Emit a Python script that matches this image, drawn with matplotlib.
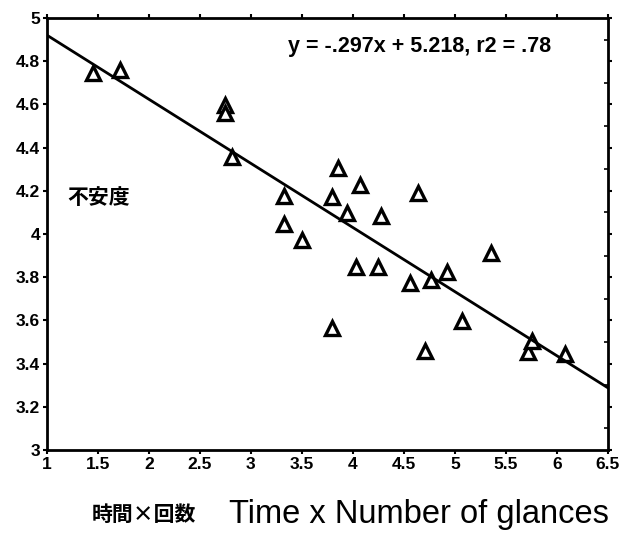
import numpy as np
import matplotlib.pyplot as plt
import matplotlib.ticker as ticker

# glance data: time x number of glances vs anxiety rating
x_vals = [1.45, 1.72, 2.75, 2.75, 2.81, 3.32, 3.32, 3.50, 3.85, 4.07,
          3.80, 3.94, 4.28, 4.64, 4.03, 4.25, 4.56, 4.77, 4.92, 5.35,
          3.80, 5.07, 4.71, 5.72, 5.76, 6.08]
y_vals = [4.745, 4.76, 4.597, 4.56, 4.357, 4.176, 4.046, 3.97, 4.306, 4.227,
          4.17, 4.097, 4.083, 4.19, 3.847, 3.847, 3.773, 3.787, 3.824, 3.912,
          3.565, 3.597, 3.458, 3.454, 3.505, 3.444]

slope = -0.297
intercept = 5.218
fit_label = 'y = -.297x + 5.218, r2 = .78'

x_ticks = [1, 1.5, 2, 2.5, 3, 3.5, 4, 4.5, 5, 5.5, 6, 6.5]
x_ticklabels = ['1', '1.5', '2', '2.5', '3', '3.5', '4', '4.5', '5', '5.5', '6', '6.5']
y_ticks = [3, 3.2, 3.4, 3.6, 3.8, 4, 4.2, 4.4, 4.6, 4.8, 5]
y_ticklabels = ['3', '3.2', '3.4', '3.6', '3.8', '4', '4.2', '4.4', '4.6', '4.8', '5']

plt.rcParams['font.family'] = ['Liberation Sans', 'Noto Sans CJK JP', 'DejaVu Sans']
cjk = ['Noto Sans CJK JP', 'DejaVu Sans']

fig = plt.figure(figsize=(6.26, 5.33), dpi=100)
ax = fig.add_axes([0.075, 0.156, 0.896, 0.81])

ax.plot(x_vals, y_vals, linestyle='none', marker='^', markersize=10,
        markerfacecolor='white', markeredgecolor='black', markeredgewidth=2.4)

xl = np.array([1, 6.5])
ax.plot(xl, slope * xl + intercept, color='black', lw=2)

ax.set_xlim(1, 6.5)
ax.set_ylim(3, 5)
ax.set_xticks(x_ticks)
ax.set_xticklabels(x_ticklabels, fontweight='bold', fontsize=12.5)
ax.set_yticks(y_ticks)
ax.set_yticklabels(y_ticklabels, fontweight='bold', fontsize=12.5)
ax.yaxis.set_minor_locator(ticker.MultipleLocator(0.1))

for s in ax.spines.values():
    s.set_linewidth(2)

ax.tick_params(which='major', direction='out', length=3, width=1.5, pad=2,
               top=True, right=True)
ax.tick_params(which='minor', direction='in', length=3, width=1.2,
               left=False, right=True)

ax.text(0.43, 0.935, fit_label, transform=ax.transAxes, fontsize=15.5,
        fontweight='bold', ha='left', va='center')
ax.text(0.036, 0.585, '不安度', transform=ax.transAxes, fontsize=15,
        fontweight='bold', family=cjk, ha='left', va='center')

fig.text(0.147, 0.034, '時間×回数', fontsize=15, fontweight='bold',
         family=cjk, ha='left', va='center')
fig.text(0.669, 0.034, 'Time x Number of glances', fontsize=23.5,
         ha='center', va='center')

fig.savefig('out.png', dpi=100)
